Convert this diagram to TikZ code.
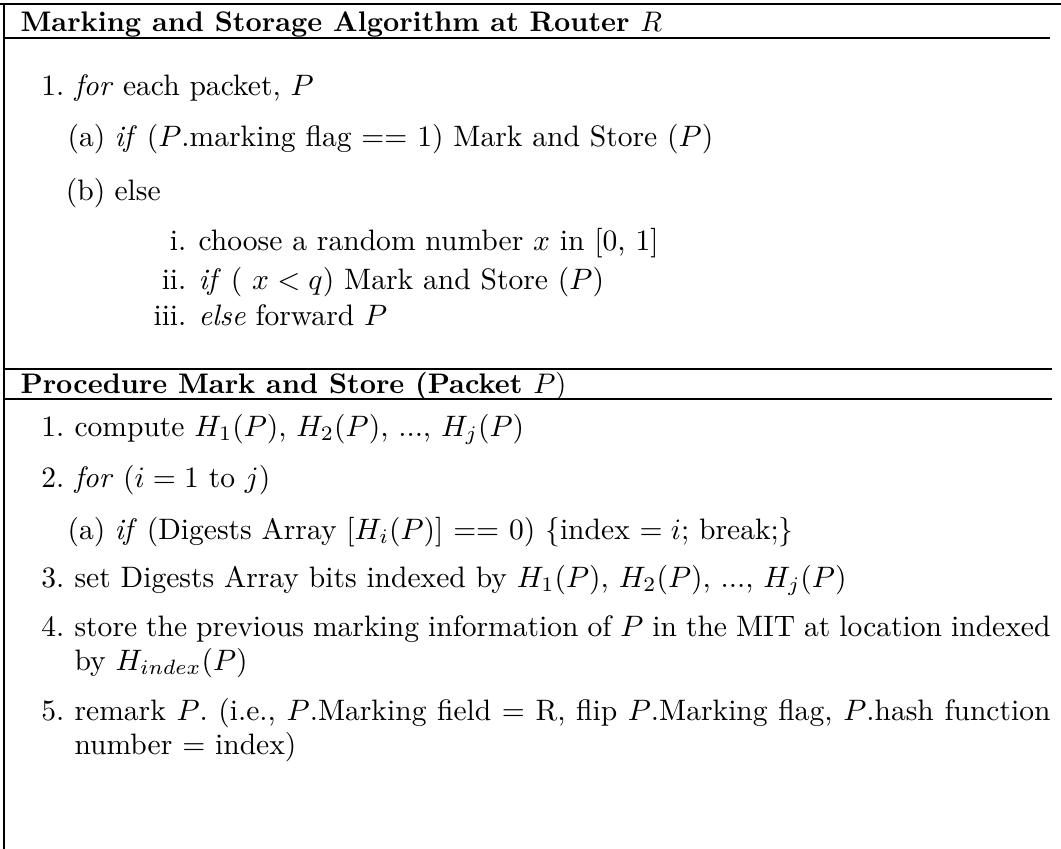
\RequirePackage{fix-cm}
\documentclass[tikz,border=0pt]{standalone}
\newcommand{\bodyfont}{\fontsize{10.45}{12.5}\selectfont}
\tikzset{
  txt/.style={anchor=base west, inner sep=0pt, font=\bodyfont},
  lab/.style={anchor=base east, inner sep=0pt, font=\bodyfont},
  ttl/.style={anchor=base west, inner sep=0pt, font=\normalsize\bfseries},
  heavyrule/.style={line width=0.9pt},
  thinrule/.style={line width=0.7pt}
}
\begin{document}
\begin{tikzpicture}[x=0.3534pt,y=-0.3534pt]
\useasboundingbox (0,0) rectangle (1061,849);
% frame lines
\coordinate (tl) at (0,4);
\coordinate (tr) at (1061,4);
\coordinate (u1l) at (4,38);
\coordinate (u1r) at (1050,38);
\coordinate (r2l) at (4,369);
\coordinate (r2r) at (1052,369);
\coordinate (u2l) at (4,399);
\coordinate (u2r) at (1052,399);
\coordinate (vb) at (4,849);
\coordinate (vt) at (4,4);
\draw[heavyrule] (tl) -- (tr);
\draw[thinrule] (u1l) -- (u1r);
\draw[thinrule] (r2l) -- (r2r);
\draw[thinrule] (u2l) -- (u2r);
\draw[thinrule] (vt) -- (vb);
% section 1
\node[ttl] (t1) at (20,32) {Marking and Storage Algorithm at Router \mdseries$R$};
\node[lab] (l1) at (65,96) {1.};
\node[txt] (s1) at (74,96) {\emph{for} each packet, $P$};
\node[lab] (l1a) at (106,146) {(a)};
\node[txt] (s1a) at (114,146) {\emph{if} ($P$.marking flag $==$ 1) Mark and Store ($P$)};
\node[lab] (l1b) at (106,200) {(b)};
\node[txt] (s1b) at (114,200) {else};
\node[lab] (l1i) at (187,250) {i.};
\node[txt] (s1i) at (198,250) {choose a random number $x$ in [0, 1]};
\node[lab] (l1ii) at (187,289) {ii.};
\node[txt] (s1ii) at (198,289) {\emph{if} ( $x<q$) Mark and Store ($P$)};
\node[lab] (l1iii) at (187,325) {iii.};
\node[txt] (s1iii) at (198,325) {\emph{else} forward $P$};
% section 2
\node[ttl] (t2) at (20,393) {Procedure Mark and Store (Packet \mdseries$P$)};
\node[lab] (m1) at (65,436) {1.};
\node[txt] (p1) at (74,436) {compute $H_1(P)$, $H_2(P)$, ..., $H_j(P)$};
\node[lab] (m2) at (65,487) {2.};
\node[txt] (p2) at (74,487) {\emph{for} ($i=1$ to $j$)};
\node[lab] (m2a) at (106,539) {(a)};
\node[txt] (p2a) at (114,539) {\emph{if} (Digests Array [$H_i(P)$] $==$ 0) $\{$index $=i$; break;$\}$};
\node[lab] (m3) at (65,587) {3.};
\node[txt] (p3) at (74,587) {set Digests Array bits indexed by $H_1(P)$, $H_2(P)$, ..., $H_j(P)$};
\node[lab] (m4) at (65,636) {4.};
\node[txt] (p4) at (74,636) {\makebox[344.9pt][s]{store the previous marking information of $P$ in the MIT at location indexed}};
\node[txt] (p4b) at (74,670) {by $H_{index}(P)$};
\node[lab] (m5) at (65,720) {5.};
\node[txt] (p5) at (74,720) {\makebox[344.9pt][s]{remark $P$.\ (i.e., $P$.Marking field = R, flip $P$.Marking flag, $P$.hash function}};
\node[txt] (p5b) at (74,754) {number = index)};
\end{tikzpicture}
\end{document}
